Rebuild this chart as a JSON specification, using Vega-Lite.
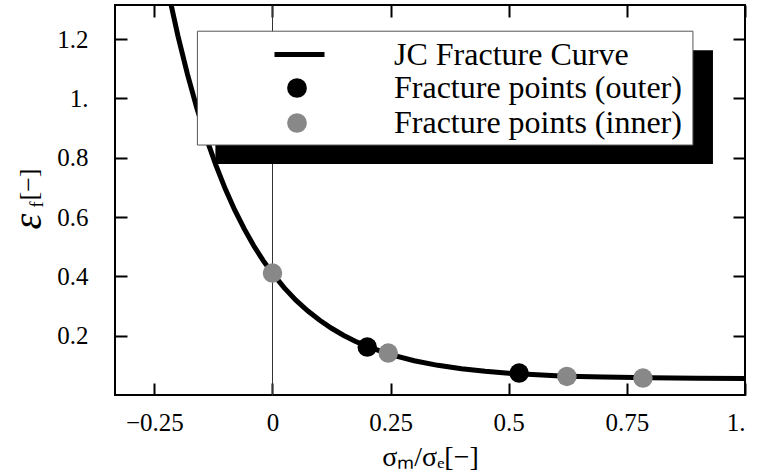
{
  "$schema": "https://vega.github.io/schema/vega-lite/v6.json",
  "width": 630,
  "height": 390,
  "autosize": {"type": "none"},
  "padding": {"left": 115, "top": 5, "right": 13, "bottom": 81},
  "background": "white",
  "config": {
    "view": {"stroke": "black", "strokeWidth": 2},
    "legend": {
      "orient": "none",
      "padding": 0,
      "rowPadding": 3,
      "labelFont": "Liberation Serif",
      "labelFontSize": 32,
      "labelColor": "black",
      "labelLimit": 600,
      "symbolOpacity": 1,
      "zindex": 1
    }
  },
  "datasets": {
    "curve": [
      {"s": -0.24, "e": 1.518, "series": "JC Fracture Curve"},
      {"s": -0.22, "e": 1.355, "series": "JC Fracture Curve"},
      {"s": -0.2, "e": 1.21, "series": "JC Fracture Curve"},
      {"s": -0.18, "e": 1.082, "series": "JC Fracture Curve"},
      {"s": -0.16, "e": 0.967, "series": "JC Fracture Curve"},
      {"s": -0.14, "e": 0.866, "series": "JC Fracture Curve"},
      {"s": -0.12, "e": 0.776, "series": "JC Fracture Curve"},
      {"s": -0.1, "e": 0.695, "series": "JC Fracture Curve"},
      {"s": -0.08, "e": 0.624, "series": "JC Fracture Curve"},
      {"s": -0.06, "e": 0.561, "series": "JC Fracture Curve"},
      {"s": -0.04, "e": 0.504, "series": "JC Fracture Curve"},
      {"s": -0.02, "e": 0.454, "series": "JC Fracture Curve"},
      {"s": 0.0, "e": 0.41, "series": "JC Fracture Curve"},
      {"s": 0.025, "e": 0.361, "series": "JC Fracture Curve"},
      {"s": 0.05, "e": 0.319, "series": "JC Fracture Curve"},
      {"s": 0.075, "e": 0.283, "series": "JC Fracture Curve"},
      {"s": 0.1, "e": 0.252, "series": "JC Fracture Curve"},
      {"s": 0.125, "e": 0.225, "series": "JC Fracture Curve"},
      {"s": 0.15, "e": 0.2015, "series": "JC Fracture Curve"},
      {"s": 0.175, "e": 0.181, "series": "JC Fracture Curve"},
      {"s": 0.2, "e": 0.164, "series": "JC Fracture Curve"},
      {"s": 0.25, "e": 0.136, "series": "JC Fracture Curve"},
      {"s": 0.3, "e": 0.1155, "series": "JC Fracture Curve"},
      {"s": 0.35, "e": 0.1, "series": "JC Fracture Curve"},
      {"s": 0.4, "e": 0.0885, "series": "JC Fracture Curve"},
      {"s": 0.45, "e": 0.08, "series": "JC Fracture Curve"},
      {"s": 0.5, "e": 0.0736, "series": "JC Fracture Curve"},
      {"s": 0.55, "e": 0.0688, "series": "JC Fracture Curve"},
      {"s": 0.6, "e": 0.0653, "series": "JC Fracture Curve"},
      {"s": 0.65, "e": 0.0627, "series": "JC Fracture Curve"},
      {"s": 0.7, "e": 0.0607, "series": "JC Fracture Curve"},
      {"s": 0.8, "e": 0.0582, "series": "JC Fracture Curve"},
      {"s": 0.9, "e": 0.0568, "series": "JC Fracture Curve"},
      {"s": 1.0, "e": 0.056, "series": "JC Fracture Curve"}
    ],
    "fracture": [
      {"s": 0.0, "e": 0.411, "series": "Fracture points (inner)"},
      {"s": 0.2006, "e": 0.1616, "series": "Fracture points (outer)"},
      {"s": 0.245, "e": 0.1414, "series": "Fracture points (inner)"},
      {"s": 0.522, "e": 0.074, "series": "Fracture points (outer)"},
      {"s": 0.623, "e": 0.0627, "series": "Fracture points (inner)"},
      {"s": 0.784, "e": 0.057, "series": "Fracture points (inner)"}
    ],
    "single": [{}]
  },
  "resolve": {"axis": {"x": "independent", "y": "independent"}},
  "layer": [
    {
      "data": {"name": "curve"},
      "mark": {"type": "line", "strokeWidth": 5, "clip": true},
      "encoding": {
        "x": {
          "field": "s", "type": "quantitative",
          "scale": {"domain": [-0.3333, 1.0], "nice": false, "zero": false},
          "axis": {
            "orient": "bottom", "values": [-0.25, 0, 0.25, 0.5, 0.75, 1],
            "domain": false, "grid": false, "ticks": false,
            "labelFont": "Liberation Serif", "labelFontSize": 25, "labelColor": "black",
            "labelPadding": 15,
            "labelExpr": "datum.value === 1 ? '1.' : replace(format(datum.value, ''), '-', '\u2212')",
            "title": "σₘ/σₑ[−]",
            "titleFont": "Liberation Serif", "titleFontSize": 28, "titleFontWeight": "normal", "titleColor": "black",
            "titleBaseline": "alphabetic", "titleY": 70
          }
        },
        "y": {
          "field": "e", "type": "quantitative",
          "scale": {"domain": [0, 1.315], "nice": false, "zero": false},
          "axis": {
            "orient": "left", "values": [0.2, 0.4, 0.6, 0.8, 1.0, 1.2],
            "domain": false, "grid": false, "ticks": false,
            "labelFont": "Liberation Serif", "labelFontSize": 25, "labelColor": "black",
            "labelPadding": 27,
            "labelExpr": "datum.value === 1 ? '1.' : format(datum.value, '.1f')",
            "title": "ε",
            "titleFont": "Liberation Serif", "titleFontSize": 40, "titleFontStyle": "italic", "titleFontWeight": "normal", "titleColor": "black",
            "titleAngle": 270, "titleAlign": "center", "titleBaseline": "middle", "titleX": -87, "titleY": 216
          }
        },
        "stroke": {
          "field": "series", "type": "nominal",
          "scale": {"domain": ["JC Fracture Curve"], "range": ["black"]},
          "legend": {
            "title": null, "legendX": 82, "legendY": 22,
            "symbolType": "stroke", "symbolSize": 2500, "symbolStrokeWidth": 5,
            "symbolOffset": 75, "labelOffset": 67
          }
        }
      }
    },
    {
      "data": {"name": "fracture"},
      "mark": {"type": "point", "filled": true, "size": 380, "opacity": 1, "shape": "circle"},
      "encoding": {
        "x": {
          "field": "s", "type": "quantitative",
          "axis": {"orient": "top", "offset": -390, "values": [-0.25, 0, 0.25, 0.5, 0.75, 1], "domain": false, "grid": false, "labels": false, "title": null, "tickSize": 12, "tickWidth": 2, "tickColor": "black"}
        },
        "y": {
          "field": "e", "type": "quantitative",
          "axis": {
            "orient": "right", "offset": -630, "values": [0.2, 0.4, 0.6, 0.8, 1.0, 1.2], "domain": false, "grid": false, "labels": false,
            "tickSize": 12, "tickWidth": 2, "tickColor": "black",
            "title": "f",
            "titleFont": "Liberation Serif", "titleFontSize": 18, "titleFontWeight": "normal", "titleColor": "black",
            "titleAngle": 270, "titleAlign": "center", "titleBaseline": "middle", "titleX": -78, "titleY": 199
          }
        },
        "color": {
          "field": "series", "type": "nominal",
          "scale": {"domain": ["Fracture points (outer)", "Fracture points (inner)"], "range": ["black", "#888888"]},
          "legend": {
            "title": null, "legendX": 82, "legendY": 67,
            "symbolType": "circle", "symbolSize": 390, "symbolStrokeWidth": 0,
            "symbolOffset": 84, "labelOffset": 81
          }
        }
      }
    },
    {
      "data": {"name": "single"},
      "mark": {"type": "rect", "color": "black", "strokeWidth": 0},
      "encoding": {
        "x": {"datum": -0.1208, "type": "quantitative",
          "axis": {"orient": "bottom", "offset": -390, "values": [-0.25, 0, 0.25, 0.5, 0.75, 1], "domain": false, "grid": false, "labels": false, "title": null, "tickSize": 12, "tickWidth": 2, "tickColor": "black"}},
        "x2": {"datum": 0.9322},
        "y": {"datum": 1.1626, "type": "quantitative",
          "axis": {
            "orient": "left", "offset": -630, "values": [0.2, 0.4, 0.6, 0.8, 1.0, 1.2], "domain": false, "grid": false, "labels": false,
            "tickSize": 12, "tickWidth": 2, "tickColor": "black",
            "title": "[−]",
            "titleFont": "Liberation Serif", "titleFontSize": 26, "titleFontWeight": "normal", "titleColor": "black",
            "titleAngle": 270, "titleAlign": "center", "titleBaseline": "middle", "titleX": -717, "titleY": 179
          }},
        "y2": {"datum": 0.7788}
      }
    },
    {
      "data": {"name": "single"},
      "mark": {"type": "rect", "fill": "white", "stroke": "#555555", "strokeWidth": 1},
      "encoding": {
        "x": {"datum": -0.1589, "type": "quantitative",
          "axis": {"orient": "bottom", "domain": false, "grid": false, "ticks": false, "labels": false, "title": null}},
        "x2": {"datum": 0.8898},
        "y": {"datum": 1.2266, "type": "quantitative",
          "axis": {"orient": "left", "offset": -157, "domain": true, "domainColor": "#333333", "domainWidth": 1, "grid": false, "ticks": false, "labels": false, "title": null}},
        "y2": {"datum": 0.8428}
      }
    }
  ]
}
